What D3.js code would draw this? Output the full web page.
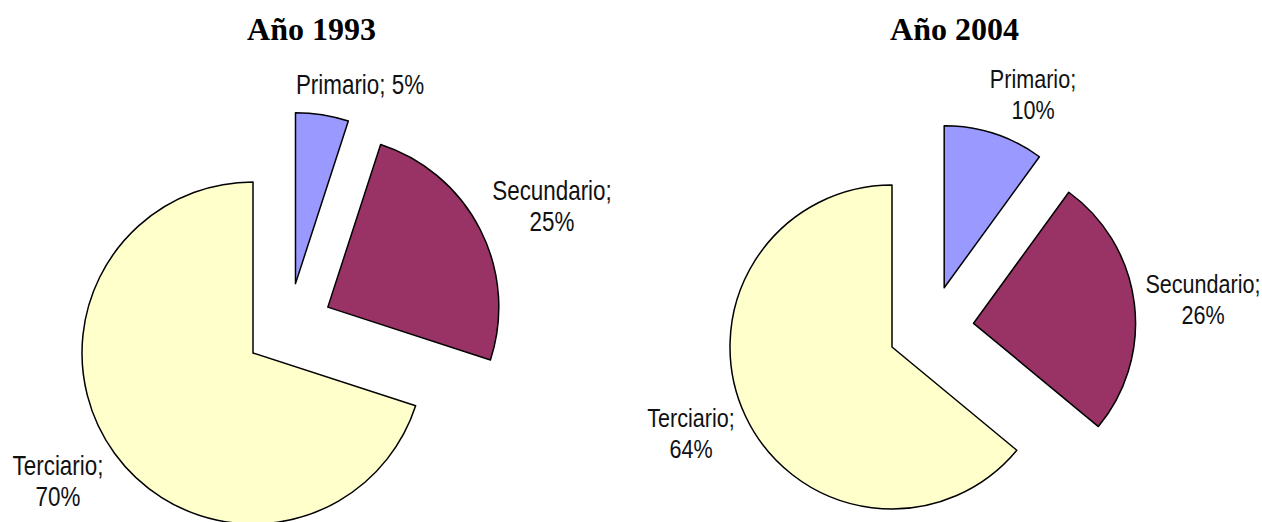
<!DOCTYPE html>
<html lang="es">
<head>
  <meta charset="UTF-8" />
  <title>Sectores 1993 - 2004</title>
  <script src="https://d3js.org/d3.v7.min.js"></script>
  <style>
    body { margin: 0; padding: 0; background: #fff; }
    svg { display: block; }
    .title { font-family: "Liberation Serif", "Times New Roman", serif; font-weight: bold; font-size: 32px; }
    .lbl { font-family: "Liberation Sans", Arial, sans-serif; fill: #111; }
  </style>
</head>
<body>
  <svg width="1262" height="522"></svg>
  <script>
    // datos
    const categories = ["Primario", "Secundario", "Terciario"];
    const titles = ["Año 1993", "Año 2004"];
    const values1993 = [5, 25, 70];
    const values2004 = [10, 26, 64];
    const colors = ["#9999FF", "#993366", "#FFFFCC"];

    // posicion de cada grafico (centro, radio, separacion y etiquetas)
    const layout = [
      {
        values: values1993, cx: 288.6, cy: 327.1, r: 171, explode: 44,
        titleX: 311.5, titleY: 40, fontSize: 27,
        labels: [
          { x: 360, y: 94, lines: 1 },
          { x: 552, y: 200, lines: 2 },
          { x: 58, y: 475, lines: 2 }
        ]
      },
      {
        values: values2004, cx: 930.9, cy: 328.7, r: 162, explode: 43,
        titleX: 954.5, titleY: 40, fontSize: 26,
        labels: [
          { x: 1033, y: 88, lines: 2 },
          { x: 1203, y: 293, lines: 2 },
          { x: 691, y: 427, lines: 2 }
        ]
      }
    ];

    const svg = d3.select("svg");
    const pie = d3.pie().sort(null).value(d => d.value);

    layout.forEach((cfg, k) => {
      const data = categories.map((c, i) => ({ name: c, value: cfg.values[i], color: colors[i] }));
      const arcs = pie(data);
      const arc = d3.arc().innerRadius(0).outerRadius(cfg.r);

      svg.append("text")
        .attr("class", "title")
        .attr("x", cfg.titleX)
        .attr("y", cfg.titleY)
        .attr("text-anchor", "middle")
        .text(titles[k]);

      const g = svg.append("g").attr("transform", `translate(${cfg.cx},${cfg.cy})`);

      g.selectAll("path")
        .data(arcs)
        .join("path")
        .attr("transform", d => {
          const a = (d.startAngle + d.endAngle) / 2;
          return `translate(${Math.sin(a) * cfg.explode},${-Math.cos(a) * cfg.explode})`;
        })
        .attr("d", arc)
        .attr("fill", d => d.data.color)
        .attr("stroke", "#000")
        .attr("stroke-width", 1.5)
        .attr("stroke-linejoin", "round");

      arcs.forEach((d, i) => {
        const pos = cfg.labels[i];
        const lines = pos.lines === 1
          ? [`${d.data.name}; ${d.data.value}%`]
          : [`${d.data.name};`, `${d.data.value}%`];
        lines.forEach((t, j) => {
          svg.append("text")
            .attr("class", "lbl")
            .attr("font-size", cfg.fontSize)
            .attr("text-anchor", "middle")
            .attr("transform", `translate(${pos.x},${pos.y + j * 31}) scale(0.83,1)`)
            .text(t);
        });
      });
    });
  </script>
</body>
</html>
